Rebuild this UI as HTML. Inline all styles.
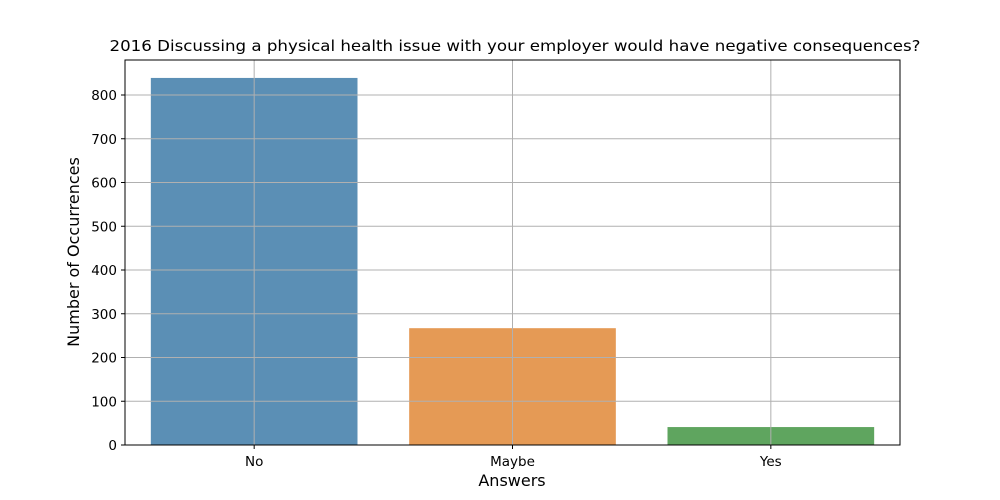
<!DOCTYPE html>
<html><head><meta charset="utf-8"><style>
body{margin:0;background:#fff;font-family:"DejaVu Sans","Liberation Sans",sans-serif}
svg{display:block}
</style></head><body>
<svg id="chart" width="1000" height="500" xmlns="http://www.w3.org/2000/svg" font-family="DejaVu Sans, Liberation Sans, sans-serif">
<text x="515" y="51" text-anchor="middle" font-size="15" textLength="811" lengthAdjust="spacingAndGlyphs">2016 Discussing a physical health issue with your employer would have negative consequences?</text>
<g id="bars"></g>
<g id="grid"></g>
<g id="axes"></g>
<text x="512" y="486" text-anchor="middle" font-size="16">Answers</text>
<text transform="translate(79,252) rotate(-90)" text-anchor="middle" font-size="16">Number of Occurrences</text>
</svg>
<script>
const categories=["No","Maybe","Yes"];
const values=[839,267,41];
const yTicks=[0,100,200,300,400,500,600,700,800];
const colors=["#5b8fb5","#e59a55","#5fa55f"];
const L=125,R=900,T=60,B=445,yMax=880;
const NS="http://www.w3.org/2000/svg";
const y=v=>B-(v/yMax)*(B-T);
const band=(R-L)/categories.length;
const xc=i=>L+band*(i+0.5);
function mk(tag,attrs,parent){const e=document.createElementNS(NS,tag);for(const k in attrs)e.setAttribute(k,attrs[k]);parent.appendChild(e);return e;}
const bars=document.getElementById('bars'),grid=document.getElementById('grid'),axes=document.getElementById('axes');
categories.forEach((c,i)=>{
  const w=band*0.8;
  const r=mk('rect',{x:xc(i)-w/2,y:y(values[i]),width:w,height:B-y(values[i]),fill:colors[i]},bars);
  
  
  const g=mk('line',{x1:xc(i),x2:xc(i),y1:T,y2:B,stroke:'#b0b0b0','stroke-width':1},grid);
  
  
  mk('line',{x1:xc(i),x2:xc(i),y1:B,y2:B+4,stroke:'#000'},axes);
  const t=mk('text',{x:xc(i),y:B+21,'text-anchor':'middle','font-size':13.5},axes);
  t.textContent=c;
  
  
});
yTicks.forEach(v=>{
  const g=mk('line',{x1:L,x2:R,y1:y(v),y2:y(v),stroke:'#b0b0b0','stroke-width':1},grid);
  
  
  mk('line',{x1:L-4,x2:L,y1:y(v),y2:y(v),stroke:'#000'},axes);
  const t=mk('text',{x:L-8,y:y(v)+5,'text-anchor':'end','font-size':13.5},axes);
  t.textContent=v;
  
  
});
const f=mk('rect',{x:L,y:T,width:R-L,height:B-T,fill:'none',stroke:'#000','stroke-width':1},axes);


</script>
</body></html>
